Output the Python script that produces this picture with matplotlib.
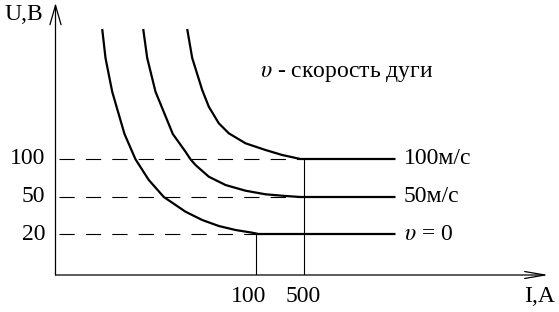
"""
Вольт-амперная характеристика дуги при разной скорости движения.
Schematic chart, positions in schematic units (px from axis origin).
"""

import matplotlib
matplotlib.use("Agg")
import matplotlib.pyplot as plt

plt.rcParams["font.family"] = ["Liberation Serif", "DejaVu Serif"]
plt.rcParams["mathtext.fontset"] = "stix"
plt.rcParams["lines.scale_dashes"] = False

# voltage levels (labels) and their schematic heights
u_labels = ["20", "50", "100"]
u_level = [41, 78, 116]

# current ticks (labels) and schematic positions
i_labels = ["100", "500"]
i_pos = [200, 248]

# curve labels, one per level
curve_labels = [r"$\upsilon$ = 0", "50м/с", "100м/с"]

# falling parts of each curve (schematic x, y)
curve0_x = [46.7, 50, 56.7, 62, 69, 80, 93.3, 108.3, 130, 146.7, 163.3, 180, 196.7, 203]
curve0_y = [246, 217, 183.3, 165, 141, 115.7, 95, 78, 63.3, 55, 49, 45, 42.3, 41]
curve50_x = [87.7, 91.7, 100, 117.3, 130, 135, 140, 153.3, 170, 190, 210, 230, 245]
curve50_y = [246, 217, 183.3, 141, 123.3, 115.7, 110, 98.3, 90, 84.3, 80.7, 79, 78]
curve100_x = [131.7, 136.7, 146.7, 153.3, 163.3, 173.3, 190, 210, 226.7, 245]
curve100_y = [246, 217, 185, 168.3, 151.7, 141.7, 131.7, 125, 120, 116]
curves_x = [curve0_x, curve50_x, curve100_x]
curves_y = [curve0_y, curve50_y, curve100_y]

flat_end = 340
x_max, y_max = 493, 272
fs = 17

W, H = 559, 312
fig = plt.figure(figsize=(W / 100, H / 100), dpi=100)
ax = fig.add_axes([55.5 / W, (H - 275) / H, x_max / W, y_max / H])
ax.set_xlim(0, x_max)
ax.set_ylim(0, y_max)
ax.axis("off")

# axes with open arrow heads
arrow = dict(arrowstyle="->,head_length=1.4,head_width=0.4", lw=0.9,
             color="black", shrinkA=0, shrinkB=0)
ax.annotate("", xy=(0, y_max), xytext=(0, 0), arrowprops=arrow,
            annotation_clip=False)
ax.annotate("", xy=(x_max, 0), xytext=(0, 0),
            arrowprops=dict(arrow, arrowstyle="->,head_length=1.45,head_width=0.25"),
            annotation_clip=False)

for cx, cy, lvl, lab in zip(curves_x, curves_y, u_level, curve_labels):
    ax.plot(cx + [flat_end], cy[:-1] + [lvl, lvl], color="black", lw=1.6,
            solid_joinstyle="round", solid_capstyle="butt", clip_on=False)
    ax.plot([3, cx[-1]], [lvl, lvl], color="black", lw=0.8,
            dashes=(11, 8), clip_on=False)
    ax.text(flat_end + 8, lvl, lab, fontsize=fs, va="center", ha="left")

# vertical markers down to the current axis
for x, lvl in zip(i_pos, [u_level[0], u_level[2]]):
    ax.plot([x, x], [0, lvl], color="black", lw=0.8)

for lab, lvl in zip(u_labels, u_level):
    ax.text(-10, lvl, lab, fontsize=fs, ha="right", va="center")
for lab, x, dx in zip(i_labels, i_pos, [-7, 0]):
    ax.text(x + dx, -21, lab, fontsize=fs, ha="center", va="center")

ax.text(-51, y_max - 12, "U,B", fontsize=fs, ha="left", va="center")
ax.text(x_max + 6, -21, "I,A", fontsize=fs, ha="right", va="center")
ax.text(204, 202, r"$\upsilon$ - скорость дуги", fontsize=fs,
        ha="left", va="center")

fig.savefig("out.png", dpi=100)
